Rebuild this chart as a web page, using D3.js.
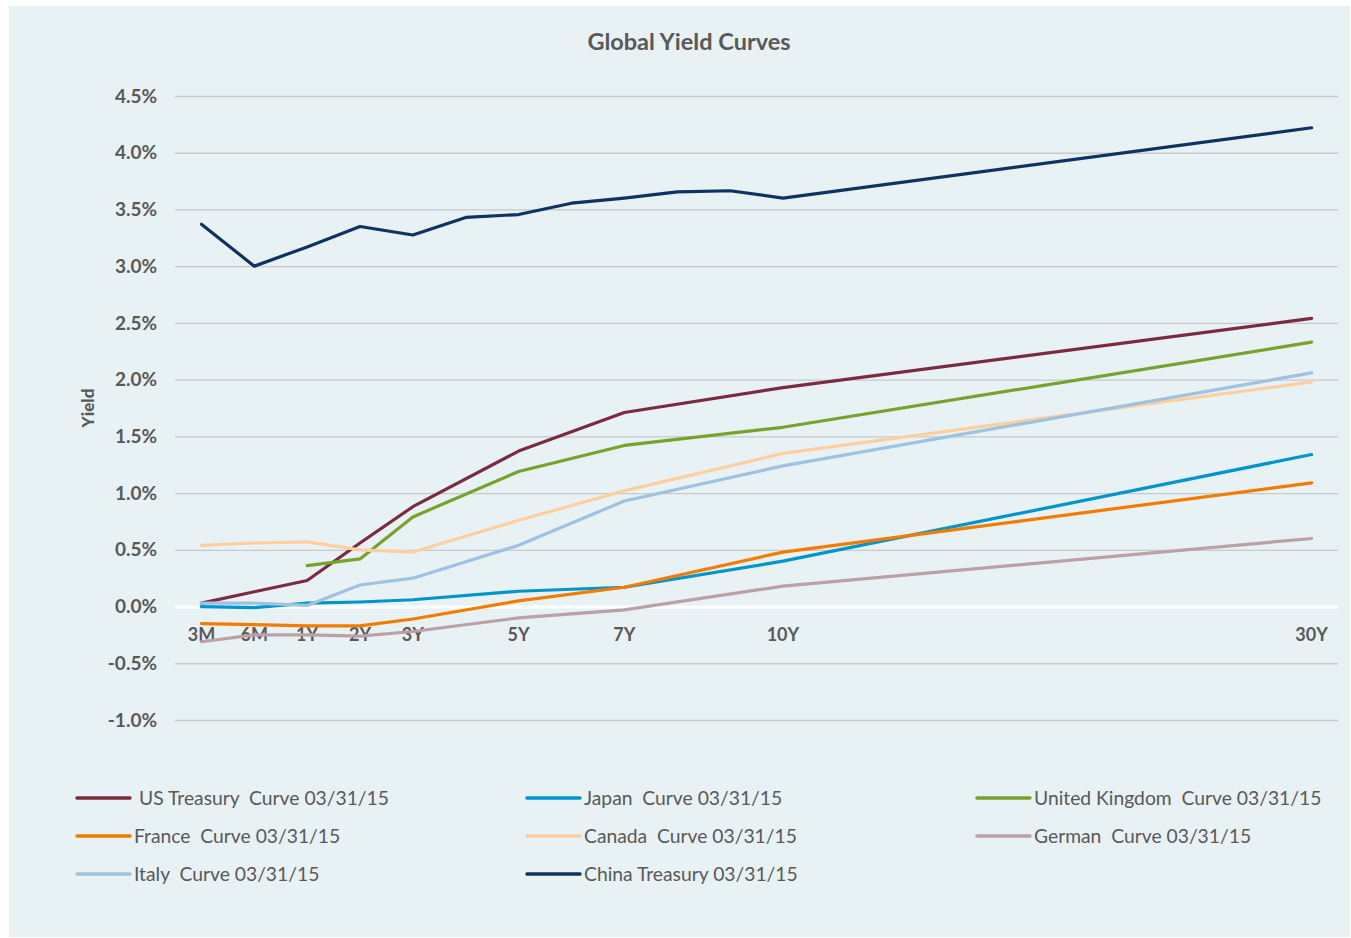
<!DOCTYPE html>
<html>
<head>
<meta charset="utf-8">
<script src="https://cdn.jsdelivr.net/npm/d3@7"></script>
<style>
  html, body { margin: 0; padding: 0; background: #ffffff; }
  svg { display: block; }
  text { font-family: Lato, "Open Sans", sans-serif; }
</style>
</head>
<body>
<script>
// ---- data ----
const tenors = ["3M","6M","1Y","2Y","3Y","4Y","5Y","6Y","7Y","8Y","9Y","10Y",
                "11Y","12Y","13Y","14Y","15Y","16Y","17Y","18Y","19Y","30Y"];
const tickLabels = ["3M","6M","1Y","2Y","3Y","5Y","7Y","10Y","30Y"];
const yTicks = [-1.0,-0.5,0,0.5,1.0,1.5,2.0,2.5,3.0,3.5,4.0,4.5];

const _ = null;
const usTreasury = [0.03,0.13,0.23,0.56,0.88,_,1.37,_,1.71,_,_,1.93,_,_,_,_,_,_,_,_,_,2.54];
const japan      = [0.00,-0.01,0.03,0.04,0.06,_,0.135,_,0.17,_,_,0.40,_,_,_,_,_,_,_,_,_,1.34];
const uk         = [_,_,0.36,0.42,0.79,_,1.19,_,1.42,_,_,1.58,_,_,_,_,_,_,_,_,_,2.33];
const france     = [-0.15,-0.16,-0.17,-0.17,-0.11,_,0.05,_,0.17,_,_,0.48,_,_,_,_,_,_,_,_,_,1.09];
const canada     = [0.54,0.56,0.57,0.50,0.48,_,0.76,_,1.02,_,_,1.35,_,_,_,_,_,_,_,_,_,1.98];
const german     = [-0.31,-0.25,-0.25,-0.26,-0.22,_,-0.10,_,-0.03,_,_,0.18,_,_,_,_,_,_,_,_,_,0.60];
const italy      = [0.03,0.03,0.01,0.19,0.25,_,0.54,_,0.93,_,_,1.24,_,_,_,_,_,_,_,_,_,2.06];
const china      = [3.37,3.00,3.17,3.35,3.275,3.43,3.455,3.555,3.60,3.655,3.665,3.60,_,_,_,_,_,_,_,_,_,4.22];

const seriesNames = ["US Treasury  Curve 03/31/15","Japan  Curve 03/31/15","United Kingdom  Curve 03/31/15",
                     "France  Curve 03/31/15","Canada  Curve 03/31/15","German  Curve 03/31/15",
                     "Italy  Curve 03/31/15","China Treasury 03/31/15"];
const seriesValues = [usTreasury, japan, uk, france, canada, german, italy, china];
const seriesColors = ["#7A2B3F","#0096CC","#77A22C","#F27C00","#FDCF9F","#BBA1A5","#9EC2E0","#0F335E"];

// ---- layout ----
const W = 1351, H = 938;
const svg = d3.select("body").append("svg").attr("width", W).attr("height", H);

svg.append("rect").attr("x", 9).attr("y", 6).attr("width", 1341).attr("height", 931)
   .attr("fill", "#E8F1F4");

const x = d3.scaleBand().domain(tenors).range([175, 1338]).padding(0);
const px = d => x(d) + x.bandwidth() / 2;
const y = d3.scaleLinear().domain([-1.0, 4.5]).range([720, 96]);

// title
svg.append("text").attr("x", 689).attr("y", 50).attr("text-anchor", "middle")
   .attr("font-size", 23.5).attr("font-weight", "bold").attr("fill", "#595959")
   .text("Global Yield Curves");

// y axis title
svg.append("text").attr("transform", "translate(94,408) rotate(-90)")
   .attr("text-anchor", "middle").attr("font-size", 17).attr("font-weight", "900")
   .attr("fill", "#595959").text("Yield");

// gridlines + y axis
const yAxis = d3.axisLeft(y).tickValues(yTicks).tickSize(-(1338 - 175)).tickPadding(18)
   .tickFormat(d => d3.format(".1f")(d).replace("\u2212", "-") + "%");
const gy = svg.append("g").attr("transform", "translate(175,0)").call(yAxis);
gy.select(".domain").remove();
gy.selectAll(".tick line").attr("stroke", "#C8C9C9").attr("stroke-width", 1.3)
  .filter(d => d === 0).attr("stroke", "#FFFFFF").attr("stroke-width", 3);
gy.selectAll(".tick text").attr("font-size", 19).attr("font-weight", "bold")
  .attr("fill", "#595959").attr("font-family", "Lato, 'Open Sans', sans-serif");

// x axis labels (at zero line, beneath the lines)
const xAxis = d3.axisBottom(x).tickValues(tickLabels).tickSize(0).tickPadding(22);
const gx = svg.append("g").attr("transform", `translate(0,${y(0)})`).call(xAxis);
gx.select(".domain").remove();
gx.selectAll(".tick text").attr("font-size", 18).attr("font-weight", "bold")
  .attr("fill", "#595959").attr("font-family", "Lato, 'Open Sans', sans-serif");

// lines
const line = d3.line().x(d => px(d.t)).y(d => y(d.v));
seriesValues.forEach((vals, i) => {
  const pts = tenors.map((t, j) => ({t, v: vals[j]})).filter(d => d.v !== null);
  svg.append("path").datum(pts).attr("d", line).attr("fill", "none")
     .attr("stroke", seriesColors[i]).attr("stroke-width", 3.2)
     .attr("stroke-linejoin", "round").attr("stroke-linecap", "round");
});

// legend
const legX = [77, 527, 977], legY = [798, 836, 874];
seriesNames.forEach((name, i) => {
  const cx = legX[i % 3], cy = legY[Math.floor(i / 3)];
  const g = svg.append("g").attr("transform", `translate(${cx},${cy})`);
  g.append("line").attr("x1", 0).attr("x2", 53).attr("y1", 0).attr("y2", 0)
   .attr("stroke", seriesColors[i]).attr("stroke-width", 3.5).attr("stroke-linecap", "round");
  g.append("text").attr("x", i === 0 ? 62 : 57).attr("y", 0).attr("dy", "0.35em")
   .attr("font-size", 19.3).attr("fill", "#595959").style("white-space", "pre").text(name);
});
</script>
</body>
</html>
